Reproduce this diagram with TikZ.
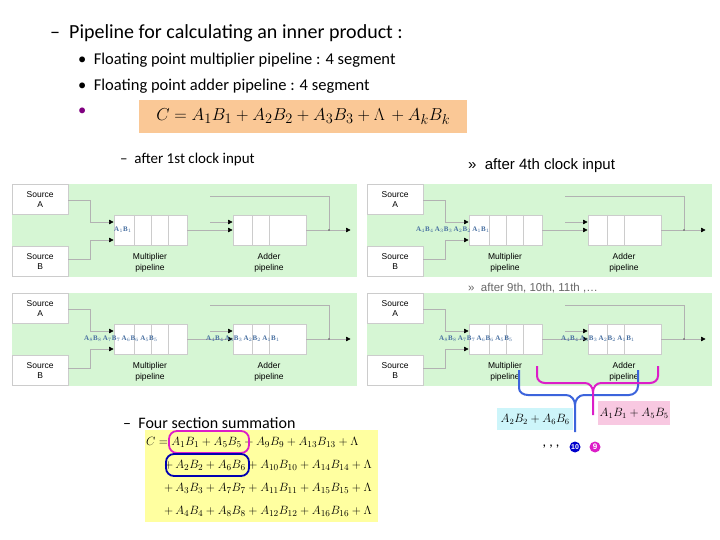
\documentclass[tikz,border=0pt]{standalone}
\usepackage{fontspec}
\setmainfont{Carlito}
\newfontfamily\arialf{Liberation Sans}
\newfontfamily\timesf{Liberation Serif}
\usetikzlibrary{arrows.meta}
\definecolor{pgreen}{RGB}{214,246,212}
\definecolor{lblue}{RGB}{70,110,160}
\definecolor{orng}{RGB}{250,200,150}
\definecolor{yel}{RGB}{255,255,160}
\definecolor{mag}{RGB}{220,30,200}
\definecolor{bl}{RGB}{60,100,220}
\definecolor{cyanbox}{RGB}{205,245,250}
\definecolor{pinkbox}{RGB}{248,200,225}
\tikzset{
 box/.style={draw=gray!40,fill=white,inner sep=0pt,anchor=north west},
 src/.style={box,minimum width=56pt,minimum height=30pt,font=\arialf\fontsize{8.5}{10}\selectfont,align=center},
 wire/.style={draw=gray!60,line width=0.5pt},
 arr/.style={wire,-{Triangle[length=4.5pt,width=4.5pt,color=black]},shorten >=0.5pt},
 plab/.style={font=\arialf\fontsize{8.5}{10.5}\selectfont,align=center},
 ab/.style={text=lblue,font=\timesf\bfseries\fontsize{7}{7}\selectfont,inner sep=0pt},
 head/.style={anchor=west,inner sep=0pt},
}
\newcommand{\pipepanel}[3]{%
\begin{scope}[shift={(#2,#3)}]
\fill[pgreen] (0,0) rectangle (345,93);
\node[src] (#1sa) at (0,0) {Source\\A};
\node[src] (#1sb) at (0,62) {Source\\B};
\node[box,minimum width=73pt,minimum height=30pt] (#1m) at (102,31) {};
\node[box,minimum width=73pt,minimum height=30pt] (#1d) at (221,31) {};
\draw[gray!40] (122,31)--(122,61) (139,31)--(139,61) (156,31)--(156,61);
\draw[gray!40] (240,31)--(240,61) (257,31)--(257,61);
\coordinate (#1j) at (317,46);
\coordinate (#1o) at (339,46);
\coordinate (#1f) at (198,12);
\draw[arr] (#1sa.east|-0,16) -- (78,16) -- (78,38) -- (#1m.west|-0,38);
\draw[arr] (#1sb.east|-0,75) -- (78,75) -- (78,56) -- (#1m.west|-0,56);
\draw[arr] (#1m.east|-0,46) -- (#1d.west|-0,46);
\draw[arr] (198,38) -- (#1d.west|-0,38);
\draw[wire] (#1f) -- (317,12) -- (#1j);
\draw[arr] (#1d.east|-0,46) -- (#1o);
\fill[gray!70!black] (#1j) circle (0.8pt);
\node[plab] (#1ml) at (138,79) {Multiplier\\pipeline};
\node[plab] (#1dl) at (257,79) {Adder\\pipeline};
\end{scope}}
\begin{document}
\begin{tikzpicture}[x=1pt,y=-1pt]
\useasboundingbox (0,0) rectangle (720,540);
\fill[white] (0,0) rectangle (720,540);
% header text
\node[head,font=\fontsize{20}{22}\selectfont] (t0) at (50,33) {– \ Pipeline for calculating an inner product :};
\node[head,font=\fontsize{16.5}{18}\selectfont] (t1) at (78,60) {•\ \ Floating point multiplier pipeline : 4 segment};
\node[head,font=\fontsize{16.5}{18}\selectfont] (t2) at (78,86) {•\ \ Floating point adder pipeline : 4 segment};
\node[head,font=\fontsize{16.5}{18}\selectfont,text=violet] (t3) at (78,112) {•};
\node[fill=orng,minimum width=328pt,minimum height=33pt,anchor=north west,inner sep=0pt,font=\fontsize{19}{20}\selectfont] (cf) at (139,100) {$C = A_1B_1 + A_2B_2 + A_3B_3 + \Lambda\, + A_kB_k$};
\node[head,font=\fontsize{15}{17}\selectfont] (s1) at (120,160) {– \ after 1st clock input};
\node[head,font=\arialf\fontsize{15}{17}\selectfont] (s2) at (468,166) {»\ \ after 4th clock input};
\node[head,font=\arialf\fontsize{11.5}{13}\selectfont,text=gray!80!black] (s3) at (468,288) {»\ \ after 9th, 10th, 11th ,…};
% panels
\pipepanel{p}{12}{184}
\pipepanel{q}{367}{184}
\pipepanel{r}{12}{293}
\pipepanel{s}{367}{293}
% labels in panels
\node[ab,anchor=west] (l1) at (114,230) {A$_1$B$_1$};
\node[ab,anchor=east] (l2) at (490,230) {A$_4$B$_4$\,A$_3$B$_3$\,A$_2$B$_2$\,A$_1$B$_1$};
\node[ab,anchor=west] (l3) at (84,339) {A$_8$B$_8$\,A$_7$B$_7$\,A$_6$B$_6$\,A$_5$B$_5$};
\node[ab,anchor=west] (l4) at (206,339) {A$_4$B$_4$\,A$_3$B$_3$\,A$_2$B$_2$\,A$_1$B$_1$};
\node[ab,anchor=west] (l5) at (439,339) {A$_{8}$B$_{8}$\,A$_7$B$_7$\,A$_6$B$_6$\,A$_5$B$_5$};
\node[ab,anchor=west] (l6) at (561,339) {A$_4$B$_4$\,A$_3$B$_3$\,A$_2$B$_2$\,A$_1$B$_1$};
% brackets
\coordinate (bb) at (575,432);
\coordinate (mb) at (593,415);
\draw[bl,line width=2pt] (519,370) -- (519,388) to[out=-90,in=180] (528,395) -- (566,395) to[out=0,in=90] (575,405) -- (bb);
\draw[bl,line width=2pt] (638,370) -- (638,386) to[out=-90,in=0] (629,395) -- (584,395) to[out=180,in=90] (575,405);
\draw[mag,line width=2pt] (537,366) -- (537,376) to[out=-90,in=180] (545,383) -- (585,383) to[out=0,in=90] (593,392) -- (mb);
\draw[mag,line width=2pt] (658,366) -- (658,376) to[out=-90,in=0] (650,383) -- (601,383) to[out=180,in=90] (593,392);
\node[fill=cyanbox,anchor=north west,minimum width=76pt,minimum height=22pt,inner sep=0pt,font=\timesf\itshape\fontsize{12}{13}\selectfont] (cb) at (497,408) {$A_2B_2 + A_6B_6$};
\node[fill=pinkbox,anchor=north west,minimum width=72pt,minimum height=24pt,inner sep=0pt,font=\timesf\itshape\fontsize{12}{13}\selectfont] (pb) at (598,401) {$A_1B_1 + A_5B_5$};
\node[circle,fill=blue!80!black,text=white,inner sep=0pt,minimum size=11pt,font=\arialf\bfseries\fontsize{7}{7}\selectfont] (c10) at (575,447) {10};
\node[circle,fill=mag,text=white,inner sep=0pt,minimum size=11pt,font=\arialf\bfseries\fontsize{8}{8}\selectfont] (c9) at (595,447) {9};
\node[font=\fontsize{14}{14}\selectfont] (dots) at (551,447) {, , ,};
% four section summation
\node[head,font=\fontsize{16}{18}\selectfont] (s4) at (123,423) {– \ Four section summation};
\fill[yel] (145,430) rectangle (378,522);
\begin{scope}[font=\fontsize{13}{14}\selectfont]
\node[anchor=west,inner sep=0pt] (f1) at (146,442) {$C = A_1B_1 + A_5B_5 + A_9B_9 + A_{13}B_{13} + \Lambda$};
\node[anchor=west,inner sep=0pt] (f2) at (164,465) {$+\,A_2B_2 + A_6B_6 + A_{10}B_{10} + A_{14}B_{14} + \Lambda$};
\node[anchor=west,inner sep=0pt] (f3) at (164,488) {$+\,A_3B_3 + A_7B_7 + A_{11}B_{11} + A_{15}B_{15} + \Lambda$};
\node[anchor=west,inner sep=0pt] (f4) at (164,511) {$+\,A_4B_4 + A_8B_8 + A_{12}B_{12} + A_{16}B_{16} + \Lambda$};
\end{scope}
\draw[mag,line width=1.8pt,rounded corners=8pt] (169,431) rectangle (249,453);
\draw[blue!70!black,line width=1.8pt,rounded corners=8pt] (166,454) rectangle (249,476);
\end{tikzpicture}
\end{document}
